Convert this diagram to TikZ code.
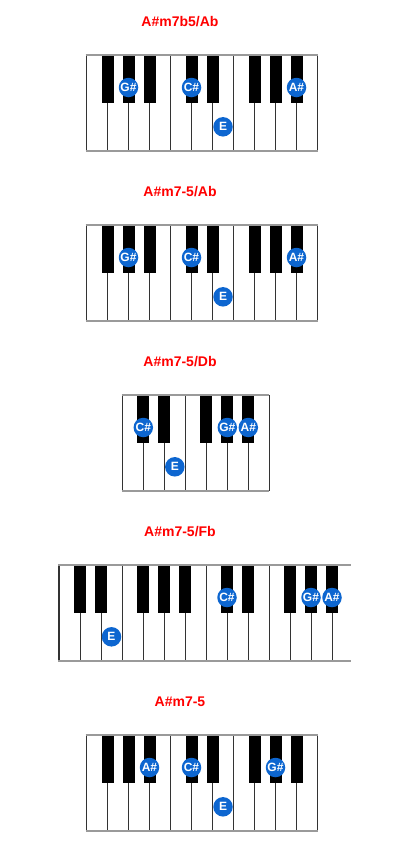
\documentclass[tikz,border=0pt]{standalone}
\usepackage{fontspec}
\setmainfont{Liberation Sans}
\usetikzlibrary{positioning}
\definecolor{chordname}{HTML}{FF0000}
\definecolor{notedot} {HTML}{0D66D0}
\definecolor{keyline} {HTML}{333333}
\definecolor{keyrim}  {HTML}{9A9A9A}

\tikzset{
  chordtitle/.style={text=chordname, anchor=base, inner sep=0pt,
    font=\bfseries\fontsize{14}{16}\selectfont},
  notedisc/.style={circle, fill=notedot, text=white, minimum size=19.5pt, inner sep=0pt,
    font=\bfseries\fontsize{12}{13}\selectfont},
}

% #1 left x, #2 top y, #3 last white line, #4 board width, #5 black keys
\newcommand{\pianoboard}[5]{%
  \draw[keyline, line width=1.6pt] (#1,#2) -- ++(0,96);
  \foreach \b in {1,...,#3}
    \draw[keyline, line width=1pt] (#1+21*\b,#2) -- ++(0,96);
  \foreach \b in {#5}
    \fill[black] (#1+21*\b-6,#2) rectangle ++(12,48);
  \draw[keyrim, line width=2pt] (#1-0.8,#2) -- ++(#4+0.8,0);
  \draw[keyrim, line width=2pt] (#1-0.8,#2+96) -- ++(#4+0.8,0);
}

\begin{document}
\begin{tikzpicture}[x=1pt, y=-1pt]
  \useasboundingbox[fill=white] (0,0) rectangle (400,860);

  % A#m7b5/Ab
  \node[chordtitle] (t1) at (180,26.5) {A\#m7b5/Ab};
  \pianoboard{86.5}{54.5}{11}{231}{1,2,3,5,6,8,9,10}
  \node[notedisc] (t1gs) at (86.5+21*2,87.5) {G\#};
  \node[notedisc] (t1cs) at (86.5+21*5,87.5) {C\#};
  \node[notedisc] (t1e)  at (86.5+21*6.5,126.8) {E};
  \node[notedisc] (t1as) at (86.5+21*10,87.5) {A\#};

  % A#m7-5/Ab
  \node[chordtitle] (t2) at (180,196.5) {A\#m7-5/Ab};
  \pianoboard{86.5}{224.5}{11}{231}{1,2,3,5,6,8,9,10}
  \node[notedisc] (t2gs) at (86.5+21*2,257.5) {G\#};
  \node[notedisc] (t2cs) at (86.5+21*5,257.5) {C\#};
  \node[notedisc] (t2e)  at (86.5+21*6.5,296.8) {E};
  \node[notedisc] (t2as) at (86.5+21*10,257.5) {A\#};

  % A#m7-5/Db
  \node[chordtitle] (t3) at (180,366.5) {A\#m7-5/Db};
  \pianoboard{122.3}{394.8}{7}{147}{1,2,4,5,6}
  \node[notedisc] (t3cs) at (122.3+21*1,427.5) {C\#};
  \node[notedisc] (t3e)  at (122.3+21*2.5,466.8) {E};
  \node[notedisc] (t3gs) at (122.3+21*5,427.5) {G\#};
  \node[notedisc] (t3as) at (122.3+21*6,427.5) {A\#};

  % A#m7-5/Fb
  \node[chordtitle] (t4) at (180,536.5) {A\#m7-5/Fb};
  \pianoboard{59}{564.5}{13}{292}{1,2,4,5,6,8,9,11,12,13}
  \node[notedisc] (t4e)  at (59+21*2.5,636.8) {E};
  \node[notedisc] (t4cs) at (59+21*8,597.5) {C\#};
  \node[notedisc] (t4gs) at (59+21*12,597.5) {G\#};
  \node[notedisc] (t4as) at (59+21*13,597.5) {A\#};

  % A#m7-5
  \node[chordtitle] (t5) at (180,706.5) {A\#m7-5};
  \pianoboard{86.5}{734.5}{11}{231}{1,2,3,5,6,8,9,10}
  \node[notedisc] (t5as) at (86.5+21*3,767.5) {A\#};
  \node[notedisc] (t5cs) at (86.5+21*5,767.5) {C\#};
  \node[notedisc] (t5e)  at (86.5+21*6.5,806.8) {E};
  \node[notedisc] (t5gs) at (86.5+21*9,767.5) {G\#};
\end{tikzpicture}
\end{document}
